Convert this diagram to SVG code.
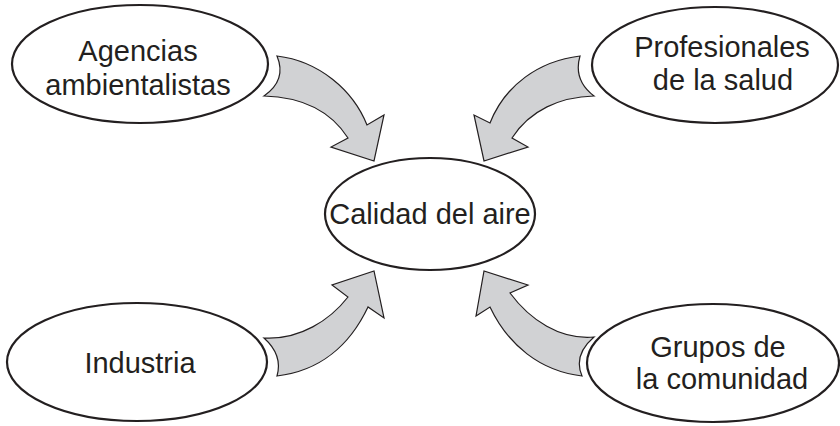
<svg xmlns="http://www.w3.org/2000/svg" width="840" height="426" viewBox="0 0 840 426">
<style>
.node ellipse{fill:#fff;stroke:#231f20;stroke-width:2.2}
.node text{font-family:"Liberation Sans",Arial,sans-serif;font-size:29px;fill:#231f20;text-anchor:middle}
.arrow{fill:#d1d2d4;stroke:#231f20;stroke-width:1.2;stroke-linejoin:miter}
</style>
<rect width="840" height="426" fill="#fff"/>
<g id="connectors">
<path class="arrow" d="M277,56 C319,61 353,90 367,125 L384,115 L374,161 L331,147 L348,138 C330,110 300,97 264,96 Q287,80 277,56 Z"/>
<path class="arrow" d="M580,56 C539,61 505,85 490,123 L474,115 L484,161 L528,147 L512,138 C530,110 560,97 594,96 Q573,80 580,56 Z"/>
<path class="arrow" d="M264,338 C300,340 330,320 348,297 L332,285 L374,271 L384,318 L368,307 C350,345 320,371 277,376 Q283,355 264,338 Z"/>
<path class="arrow" d="M594,337 C560,340 530,320 510,293 L528,285 L484,271 L476,316 L490,307 C508,345 540,371 582,376 Q573,355 594,337 Z"/>
</g>
<g id="n-agencias" class="node">
<ellipse cx="140" cy="64" rx="128" ry="59"/>
<text x="138" y="61">Agencias</text>
<text x="138" y="95">ambientalistas</text>
</g>
<g id="n-profesionales" class="node">
<ellipse cx="715" cy="65" rx="123" ry="58"/>
<text x="722" y="57">Profesionales</text>
<text x="723" y="90">de la salud</text>
</g>
<g id="n-calidad" class="node">
<ellipse cx="430" cy="214" rx="105" ry="56"/>
<text x="430" y="224">Calidad del aire</text>
</g>
<g id="n-industria" class="node">
<ellipse cx="137" cy="362" rx="130" ry="59"/>
<text x="140" y="373">Industria</text>
</g>
<g id="n-grupos" class="node">
<ellipse cx="713" cy="363" rx="126" ry="59"/>
<text x="718" y="357">Grupos de</text>
<text x="722" y="389">la comunidad</text>
</g>
</svg>
